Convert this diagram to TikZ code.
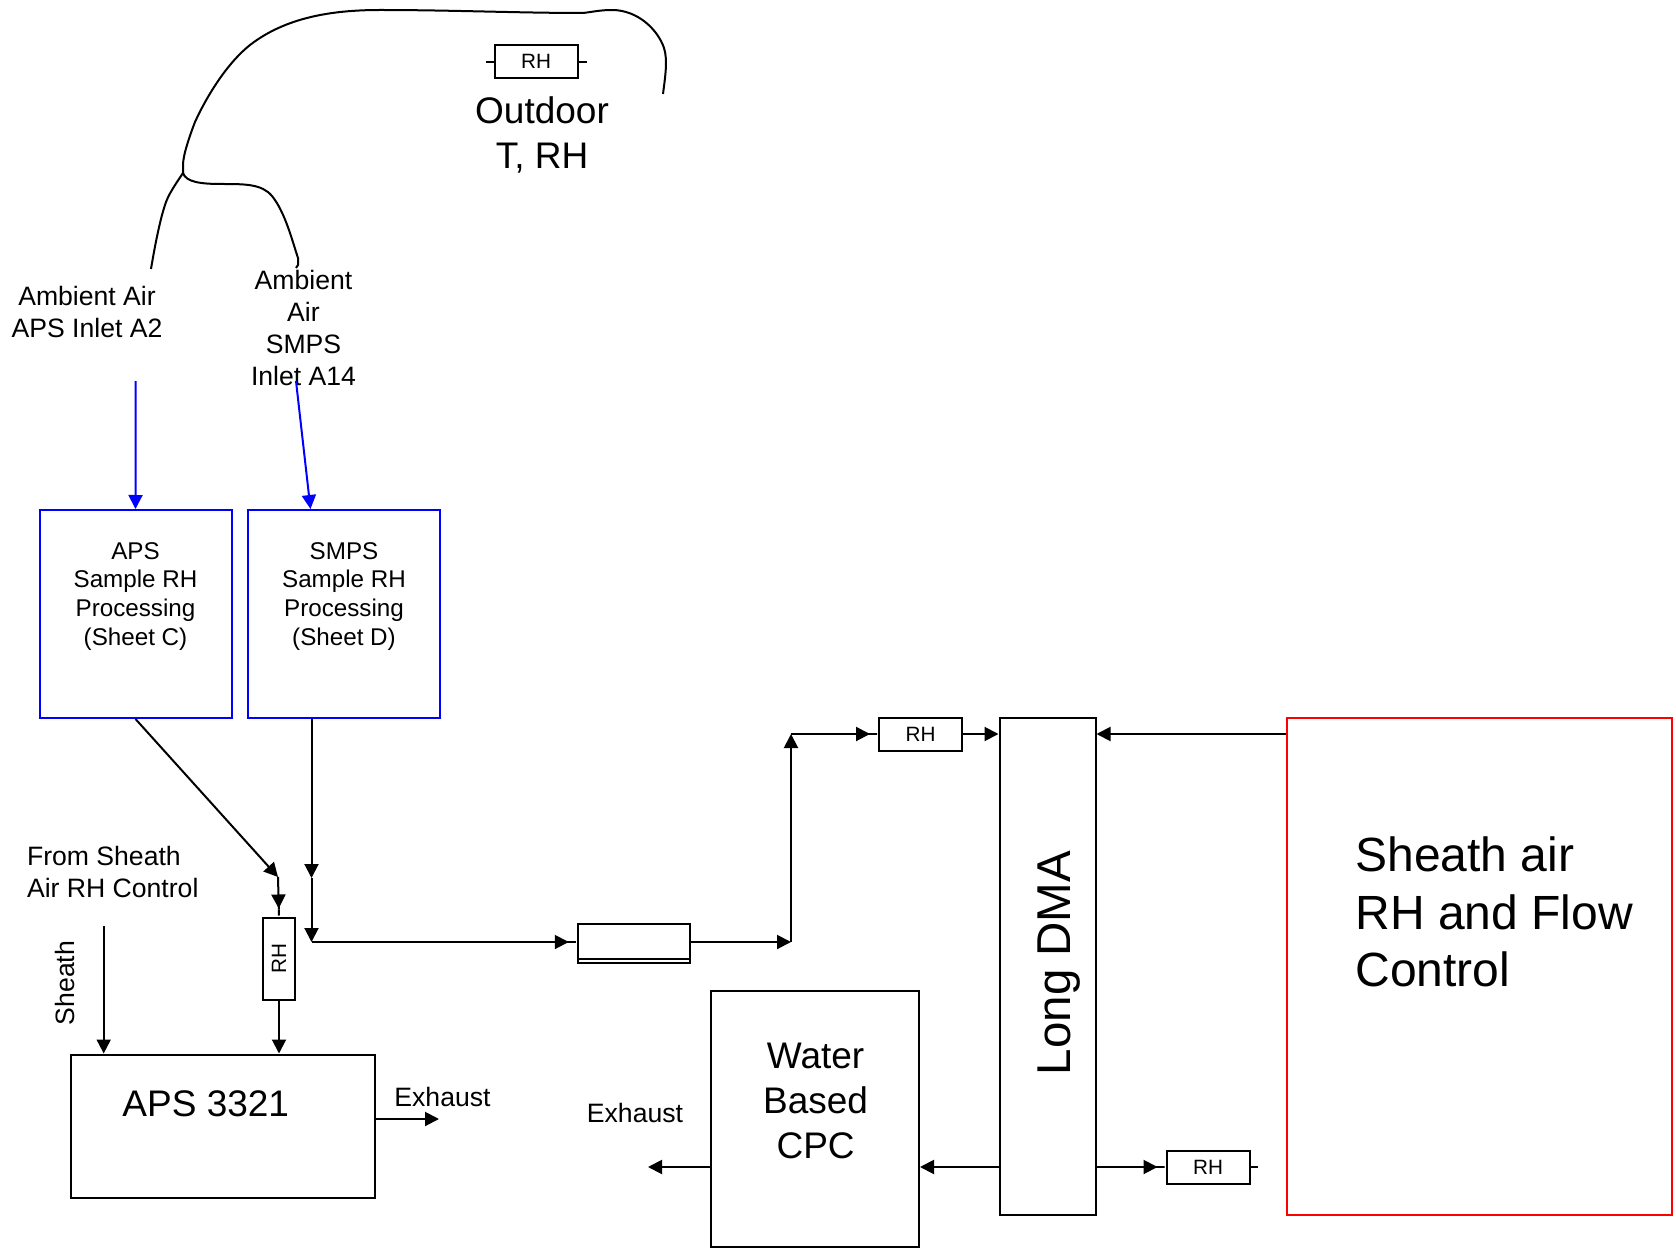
\documentclass[tikz,border=0pt]{standalone}
\usepackage{fontspec}
\setmainfont{Liberation Sans}
\usetikzlibrary{arrows.meta, positioning}

\begin{document}
\begin{tikzpicture}[
        x=1pt, y=-1pt,
        node distance = 14pt and 14pt,
        base/.style    ={draw=black, line width=2pt, inner sep=0pt},
        bluebox/.style ={base, draw=blue, minimum width=192pt, minimum height=208pt},
        redbox/.style  ={base, draw=red, minimum width=385pt, minimum height=497pt},
        rhbox/.style   ={base, font=\fontsize{20.7}{24}\selectfont, minimum width=83pt, minimum height=33pt},
        rhvert/.style  ={base, font=\fontsize{20.7}{24}\selectfont, minimum width=32pt, minimum height=82pt},
        small/.style   ={align=center, font=\fontsize{24.2}{28.9}\selectfont},
        medium/.style  ={align=center, font=\fontsize{26.6}{32}\selectfont},
        large/.style   ={align=center, font=\fontsize{37}{45}\selectfont},
        huge/.style    ={align=left, font=\fontsize{48}{57.7}\selectfont},
        wire/.style    ={line width=2pt},
        arrow/.style   ={wire, -{Triangle[length=14pt,width=14pt]}},
        stubarrow/.style={wire, -{Triangle[length=14pt,width=14pt]Rectangle[length=8pt,width=2pt]}},
        bluearrow/.style={arrow, draw=blue, -{Triangle[length=14pt,width=14pt,color=blue]}}
    ]
    \useasboundingbox (0,0) rectangle (1676,1249);

    % --- boxes ---
    \node[bluebox] (aps) at (135.5,614) {};
    \node[bluebox, right=of aps] (smps) {};
    \node[base, minimum width=304pt, minimum height=143pt] (apsunit) at (223,1126) {};
    \node[base, minimum width=208pt, minimum height=256pt] (cpc) at (815,1118.5) {};
    \node[base, minimum width=96pt, minimum height=497pt] (dma) at (1047.5,966) {};
    \node[redbox, right=189.5pt of dma] (ctrl) {};
    \node[base, minimum width=112.5pt, minimum height=38.5pt] (filter) at (634,943.5) {};
    \node[rhbox] (rhout) at (536,61.8) {RH};
    \node[rhbox] (rhtop) at (920.5,734) {RH};
    \node[rhbox] (rhbot) at (1208,1167) {RH};
    \node[rhvert] (rhside) at (279,958.5) {\rotatebox{90}{RH}};

    % --- texts ---
    \node[large] (outlab) at (542,134.5) {Outdoor\\T, RH};
    \node[medium] (apsin) at (87,312) {Ambient Air\\APS Inlet A2};
    \node[medium] (smpsin) at (303.5,328) {Ambient\\Air\\SMPS\\Inlet A14};
    \node[small] (apstxt) at (135.5,596.5) {APS\\Sample RH\\Processing\\(Sheet C)};
    \node[small] (smpstxt) at (344,596.5) {SMPS\\Sample RH\\Processing\\(Sheet D)};
    \node[medium, align=left, anchor=west] (fromlab) at (23.5,872) {From Sheath\\Air RH Control};
    \node[medium, rotate=90] (sheathlab) at (65,983) {Sheath};
    \node[large] (apstitle) at (205.8,1103.5) {APS 3321};
    \node[medium] (exhaps) at (442.5,1097) {Exhaust};
    \node[medium] (exhcpc) at (635,1113) {Exhaust};
    \node[large] (cpctxt) at (815.6,1100.5) {Water\\Based\\CPC};
    \node[huge, rotate=90, font=\fontsize{47.5}{54}\selectfont] (dmatxt) at (1059,963) {Long DMA};
    \node[huge, anchor=west] (ctrltxt) at (1352,912) {Sheath air\\RH and Flow\\Control};

    % --- points ---
    \coordinate (inaps) at (135.7,381);
    \coordinate (insmps) at (296,381);
    \coordinate (insheath) at (103.7,926);
    \coordinate (apsmid) at (278,877);
    \coordinate (smpsmid) at (311.5,878);
    \coordinate (mix) at (311.5,942);
    \coordinate (riser) at (791,942);
    \coordinate (turn) at (791,734);
    \coordinate (endaps) at (439,1119);
    \coordinate (endcpc) at (648,1167);
    \coordinate (split) at (183,173);

    % --- arrows ---
    \draw[bluearrow] (inaps) -- (aps.north);
    \draw[bluearrow] (insmps) -- ([xshift=-33pt]smps.north);
    \draw[arrow] (aps.south) -- (apsmid);
    \draw[stubarrow] (apsmid) -- (rhside.north);
    \draw[arrow] (rhside.south) -- (apsunit.north -| rhside.south);
    \draw[arrow] (smps.south -| smpsmid) -- (smpsmid);
    \draw[arrow] (smpsmid) -- (mix);
    \draw[stubarrow] (mix) -- (filter.west |- mix);
    \draw[arrow] (filter.east |- riser) -- (riser);
    \draw[arrow] (riser) -- (turn);
    \draw[stubarrow] (turn) -- (rhtop.west);
    \draw[arrow] (rhtop.east) -- (dma.west |- rhtop.east);
    \draw[arrow] (ctrl.west |- turn) -- (dma.east |- turn);
    \draw[arrow] (insheath) -- (apsunit.north -| insheath);
    \draw[arrow] (apsunit.east |- endaps) -- (endaps);
    \draw[arrow] (dma.west |- endcpc) -- (cpc.east |- endcpc);
    \draw[arrow] (cpc.west |- endcpc) -- (endcpc);
    \draw[stubarrow] (dma.east |- rhbot.west) -- (rhbot.west);

    % --- stubs and filter line ---
    \draw[wire] (rhout.west) -- +(-8,0);
    \draw[wire] (rhout.east) -- +(8,0);
    \draw[wire] (rhbot.east) -- +(7,0);
    \draw[wire] ([yshift=5pt]filter.south west) -- ([yshift=5pt]filter.south east);

    % --- tubing from outdoor ---
    \draw[wire] (663,94) .. controls (665,78) and (668,60) .. (664,48)
        .. controls (658,30) and (638,10) .. (612,10)
        .. controls (600,10) and (592,12) .. (583,13)
        .. controls (520,13) and (450,10) .. (380,10)
        .. controls (330,10) and (285,18) .. (250,45)
        .. controls (225,65) and (205,100) .. (195,122)
        .. controls (190,135) and (183,155) .. (183,165) -- (split);
    \draw[wire] (split) .. controls (175,185) and (168,195) .. (165,205)
        .. controls (160,220) and (155,245) .. (151,269);
    \draw[wire] (split) .. controls (186,182) and (200,184) .. (222,184)
        .. controls (245,184) and (262,184) .. (272,196)
        .. controls (285,212) and (292,240) .. (298,258) -- (298,265) -- (296,268);

\end{tikzpicture}
\end{document}
